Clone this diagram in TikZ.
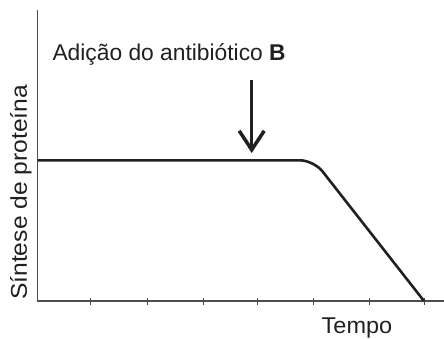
\documentclass[tikz,border=0pt]{standalone}
\usepackage{fontspec}
\setmainfont{Liberation Sans}
\usetikzlibrary{arrows.meta}
\definecolor{ink}{HTML}{231F20}
\definecolor{axisgray}{HTML}{4D4D4D}
\tikzset{
  axisline/.style={draw=axisgray,line width=1.3pt},
  tickline/.style={draw=axisgray,line width=1pt},
  curveline/.style={draw=ink,line width=2.6pt,rounded corners=14pt,line join=round},
  markarrow/.style={draw=ink,line width=3.5pt,-{Straight Barb[length=19pt,width=25pt,line width=3.5pt]}},
  lbl/.style={inner sep=0pt,font=\fontsize{22.8pt}{26pt}\selectfont,text=ink}
}
\begin{document}
\begin{tikzpicture}[x=1pt,y=-1pt]
\useasboundingbox (0,0) rectangle (444,338);
% axes
\coordinate (ytop) at (37.7,10);
\coordinate (orig) at (37.7,301);
\coordinate (xend) at (444,301);
\draw[axisline] (ytop) -- (orig) -- (xend);
% ticks
\foreach \x [count=\i] in {90.7,147,203,257.7,313.3,369.3,424}{
  \coordinate (t\i) at (\x,301);
  \draw[tickline] ([yshift=-3.5pt]t\i) -- ([yshift=3.5pt]t\i);
}
% curve
\coordinate (c0) at (37.7,160.3);
\coordinate (c1) at (313.8,160.3);
\coordinate (c2) at (424,301);
\draw[curveline] (c0) -- (c1) -- (c2);
% arrow
\coordinate (as) at (251.7,80);
\coordinate (ae) at (251.7,153);
\draw[markarrow] (as) -- (ae);
% labels
\node[lbl,anchor=base west] (title) at (52.3,60) {Adição do antibiótico \textbf{B}};
\node[lbl,anchor=base west] (tempo) at (321.5,333.3) {\scalebox{1.03}[1]{Tempo}};
\node[lbl,anchor=base west,rotate=90] (ylab) at (27,300) {\scalebox{1.08}[1]{Síntese de proteína}};
\end{tikzpicture}
\end{document}
